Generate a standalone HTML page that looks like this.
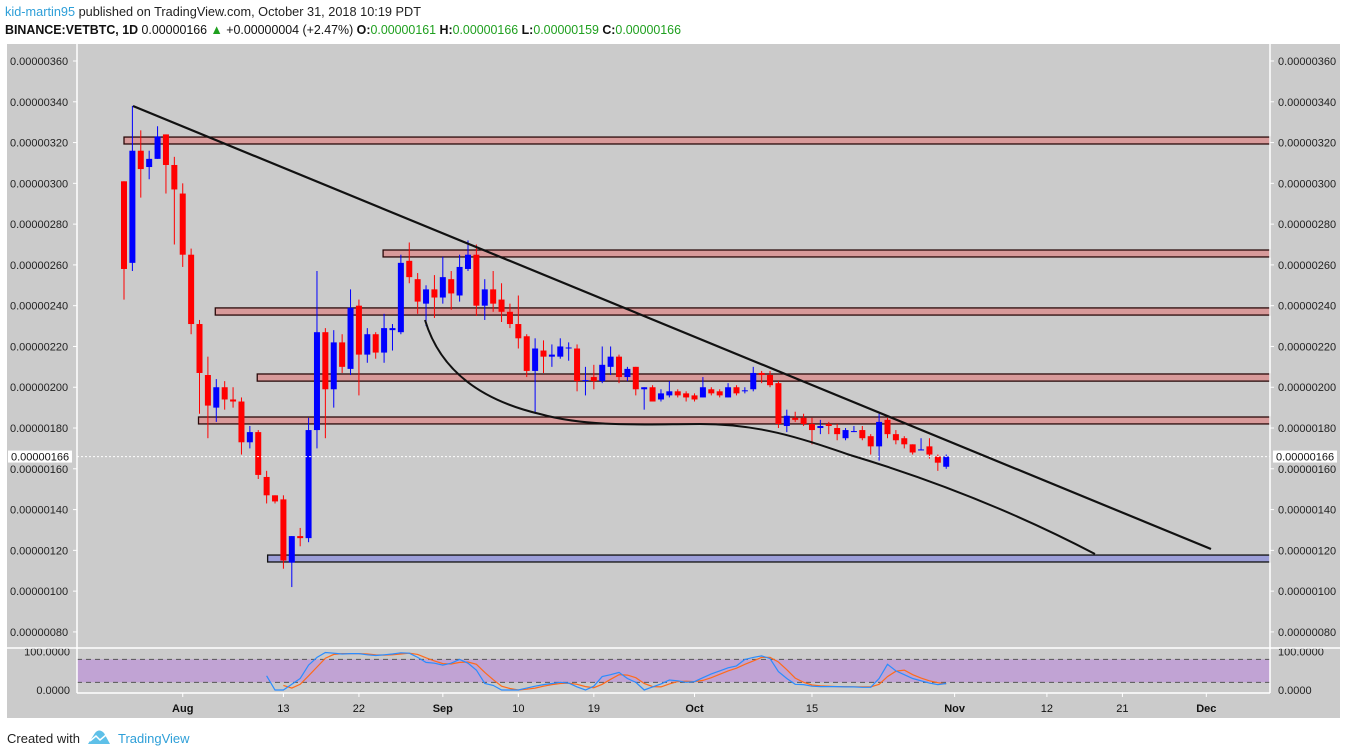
<!DOCTYPE html>
<html><head><meta charset="utf-8"><style>
html,body{margin:0;padding:0;background:#fff;}
svg{display:block;font-family:"Liberation Sans",sans-serif;}
</style></head><body>
<svg id="chart" width="1348" height="756" viewBox="0 0 1348 756">
  <text x="5" y="16" font-size="13" textLength="416" lengthAdjust="spacingAndGlyphs"><tspan fill="#2e9fd8">kid-martin95</tspan><tspan fill="#222"> published on TradingView.com, October 31, 2018 10:19 PDT</tspan></text>
  <text x="5" y="34" font-size="13" textLength="676" lengthAdjust="spacingAndGlyphs"><tspan fill="#111" font-weight="bold">BINANCE:VETBTC, 1D </tspan><tspan fill="#111">0.00000166 </tspan><tspan fill="#1fa01f">▲</tspan><tspan fill="#111"> +0.00000004 (+2.47%) </tspan><tspan font-weight="bold" fill="#111">O:</tspan><tspan fill="#1fa01f">0.00000161 </tspan><tspan font-weight="bold" fill="#111">H:</tspan><tspan fill="#1fa01f">0.00000166 </tspan><tspan font-weight="bold" fill="#111">L:</tspan><tspan fill="#1fa01f">0.00000159 </tspan><tspan font-weight="bold" fill="#111">C:</tspan><tspan fill="#1fa01f">0.00000166</tspan></text>
  <rect x="7" y="44" width="1333" height="674" fill="#cbcbcb"/>
  <g id="zones"></g>
  <g id="candles"></g>
  <g id="stoch"></g>
  <g id="axes"></g>
  <path d="M133,106 L1211,549" stroke="#111" stroke-width="2.2" fill="none"/>
  <path d="M425,320 C440,370 480,400 540,414 C590,428 650,424 700,424 C760,424 800,438 850,455 C950,485 1030,520 1095,554" stroke="#111" stroke-width="2" fill="none"/>
  <g>
    <text x="7" y="743" font-size="13" fill="#222">Created with</text>
    <path d="M88,744 L95,733 Q99,728 104,733 L110,744 Z" fill="#5ec0e8"/>
    <path d="M90,741 L96,736 L100,740 L106,735" stroke="#fff" stroke-width="1.5" fill="none"/>
    <text x="118" y="743" font-size="13" fill="#2e9fd8">TradingView</text>
  </g>
</svg>
<script>
const opens=[301,261,316,308,312,324,309,295,265,231,206,190,200,194,193,173,178,156,147,145,114,127,126,179,227,199,222,209,240,216,226,217,228,227,262,253,241,248,244,253,245,258,265,240,248,243,237,231,225,208,218,215,215,219,219,203,205,203,210,215,205,210,199,200,194,196,198,197,196,195,199,198,195,200,198,199,207,206,202,181,185,185,182,180,182,180,175,178,179,176,171,184,177,175,172,169,171,166,161];
const closes=[258,316,307,312,323,309,297,265,231,207,191,200,194,193,173,178,157,147,144,115,127,126,179,227,199,222,210,239,216,226,217,229,229,261,254,242,248,244,254,246,259,265,240,248,241,237,231,224,208,219,215,216,220,219.5,203,203.5,203,211,215,205,209,199,200,193,197,198,196,195,194,200,197,196,200,197,198.5,207,206,201,182,186,184,182,179,181,181,177,179,178.5,175,171,183,177,174,172,168,169.5,167,163,166];
const highs=[301,338,326,316,328,324,313,300,268,233,215,204,203,200,195,181,179,159,147,147,127,131,185,257,229,228,226,248,243,229,227,236,231,265,271,256,250,255,264,257,265,272,270,253,257,251,241,245,226,224,223,221,224,222,221,210,211,220,220,216,210,210,200,201,199,203,199,198,197,205,200,199,202,201,200,210,208,208,203,189,188,187,185,184,183,182,180,181,181,177,187,185,179,176,172,175,175,167,167];
const lows=[243,257,293,302,312,295,270,259,226,187,175,183,189,190,167,170,155,143,143,111,102,122,124,170,175,190,207,206,196,212,214,212,218,226,251,236,230,234,241,238,242,257,235,233,237,232,229,219,205,187,207,210,214,213,198,196,199,202,206,202,203,196,189,193,193,195,195,193,193,195,196,195,195,196,197,198,202,200,180,178,183,181,172,177,177,174,174,178,174,167,164,175,172,170,167,169,165,159,160];
const stochK=[37,0,0,15,30,65,85,98,96,94,95,95,92,90,92,94,97,96,85,72,70,65,70,80,70,52,17,12,0,0,0,5,10,14,17,20,18,8,0,10,35,40,46,30,20,0,8,16,26,24,20,22,32,42,50,58,63,80,85,89,82,48,30,15,14,10,9,9,9,8,8,7,7,30,67,50,40,30,24,18,14,17];
const stochD=[12,5,15,37,60,83,93,95,95,95,94,92,91,92,94,96,93,84,76,69,68,72,73,67,46,27,10,4,0,2,5,10,14,17,18,15,9,6,15,28,40,39,32,17,9,8,16,22,23,22,25,32,41,50,57,67,76,85,85,73,53,31,20,13,11,10,9,9,8,8,8,15,35,49,52,40,31,24,19,16];
const kStart=17, dStart=19;
const priceTicks=[360,340,320,300,280,260,240,220,200,180,160,140,120,100,80];
const zoneTops=[322.7,267.3,238.9,206.5,185.4];
const zoneBottoms=[319.3,263.9,235.4,203,182];
const zoneStarts=[-1,31,11,16,9];
const supportTop=117.7, supportBottom=114.3, supportStart=17;
const xTickLabels=["Aug","13","22","Sep","10","19","Oct","15","Nov","12","21","Dec"];
const xTickIdx=[7,19,28,38,47,56,68,82,99,110,119,129];
const xTickBold=[1,0,0,1,0,0,1,0,1,0,0,1];
const lastPrice=166;

const NS="http://www.w3.org/2000/svg";
function x(i){return 124+i*8.39;}
function y(v){return 61+(360-v)*2.039;}
function ys(v){return 690-v*0.383;}
function mk(tag,attrs,parent){const e=document.createElementNS(NS,tag);for(const k in attrs)e.setAttribute(k,attrs[k]);parent.appendChild(e);return e;}
const fmt=v=>"0.00000"+String(Math.round(v)).padStart(3,"0");

const zg=document.getElementById('zones');
for(let i=0;i<zoneTops.length;i++){
  const x0=zoneStarts[i]<0?124:x(zoneStarts[i])-1;
  const r=mk('rect',{x:x0,y:y(zoneTops[i]),width:1270-x0,height:y(zoneBottoms[i])-y(zoneTops[i]),fill:'#d89a9a',stroke:'#2a0a0a','stroke-width':1.3},zg);
  
  
}
{const x0=x(supportStart)+1;
const r=mk('rect',{x:x0,y:y(supportTop),width:1270-x0,height:y(supportBottom)-y(supportTop),fill:'#9c9ed8',stroke:'#111','stroke-width':1.3},zg);

}

const cg=document.getElementById('candles');
for(let i=0;i<opens.length;i++){
  const up=closes[i]>=opens[i], col=up?'#0000ff':'#ff0000';
  const g=mk('g',{},cg);
  
  
  mk('line',{x1:x(i),x2:x(i),y1:y(highs[i]),y2:y(lows[i]),stroke:col,'stroke-width':1},g);
  const t=y(Math.max(opens[i],closes[i])), b=y(Math.min(opens[i],closes[i]));
  mk('rect',{x:x(i)-3,y:t,width:6,height:Math.max(1,b-t),fill:col},g);
}

const ag=document.getElementById('axes');
// panel separators
mk('line',{x1:77,x2:77,y1:44,y2:693,stroke:'#fff','stroke-width':1.5},ag);
mk('line',{x1:1270,x2:1270,y1:44,y2:693,stroke:'#fff','stroke-width':1.5},ag);
mk('line',{x1:7,x2:1340,y1:648,y2:648,stroke:'#fff','stroke-width':1.5},ag);
mk('line',{x1:77,x2:1270,y1:693,y2:693,stroke:'#fff','stroke-width':1.5},ag);
for(let k=0;k<priceTicks.length;k++){
  const v=priceTicks[k];
  const l=mk('text',{x:10,y:y(v)+4,'font-size':11,fill:'#222'},ag);l.textContent=fmt(v);
  
  
  const r=mk('text',{x:1278,y:y(v)+4,'font-size':11,fill:'#222'},ag);r.textContent=fmt(v);
  
  
  mk('line',{x1:73,x2:77,y1:y(v),y2:y(v),stroke:'#fff'},ag);
  mk('line',{x1:1270,x2:1274,y1:y(v),y2:y(v),stroke:'#fff'},ag);
}
// last price line
mk('line',{x1:77,x2:1270,y1:y(lastPrice),y2:y(lastPrice),stroke:'#fff','stroke-dasharray':'2,2'},ag);
for(const lx of [8,1273]){
  mk('rect',{x:lx,y:y(lastPrice)-6,width:64,height:12,fill:'#fff'},ag);
  const t=mk('text',{x:lx+3,y:y(lastPrice)+4,'font-size':11,fill:'#111'},ag);t.textContent=fmt(lastPrice);
  
  
}
// x ticks
for(let k=0;k<xTickLabels.length;k++){
  const xx=x(xTickIdx[k]);
  mk('line',{x1:xx,x2:xx,y1:693,y2:697,stroke:'#fff'},ag);
  const t=mk('text',{x:xx,y:712,'font-size':11,'text-anchor':'middle',fill:'#111','font-weight':xTickBold[k]?'bold':'normal'},ag);
  t.textContent=xTickLabels[k];
  
  
}

// stochastic panel
const sg=document.getElementById('stoch');
const band=mk('rect',{x:77,y:ys(80),width:1193,height:ys(20)-ys(80),fill:'#c1a3d4'},sg);


for(const v of [80,20]) mk('line',{x1:77,x2:1270,y1:ys(v),y2:ys(v),stroke:'#555','stroke-dasharray':'5,4'},sg);
for(const [v,lab] of [[100,'100.0000'],[0,'0.0000']]){
  for(const lx of [[70,'end'],[1278,'start']]){
    const t=mk('text',{x:lx[0],y:ys(v)+4,'font-size':11,'text-anchor':lx[1],fill:'#222'},sg);t.textContent=lab;
    
    
  }
}
const kp=stochK.map((v,j)=>x(kStart+j).toFixed(1)+','+ys(v).toFixed(1)).join(' ');
const dp=stochD.map((v,j)=>x(dStart+j).toFixed(1)+','+ys(v).toFixed(1)).join(' ');
const dl=mk('polyline',{points:dp,fill:'none',stroke:'#ff6a1a','stroke-width':1.2},sg);


const kl=mk('polyline',{points:kp,fill:'none',stroke:'#2a8cff','stroke-width':1.2},sg);


</script>
</body></html>
